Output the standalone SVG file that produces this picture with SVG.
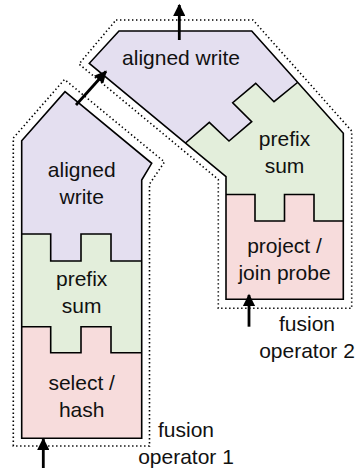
<svg xmlns="http://www.w3.org/2000/svg" width="356" height="468" viewBox="0 0 356 468">
  <defs>
    <marker id="head" viewBox="0 0 10 10" refX="9" refY="5" markerWidth="5" markerHeight="4.4" markerUnits="strokeWidth" orient="auto">
      <path d="M0,0 L10,5 L0,10 Z" fill="#000"/>
    </marker>
    <style>
      .write { fill: #e4dff0; }
      .prefix { fill: #e3eedb; }
      .scan { fill: #f7dcdc; }
      .edge { fill: none; stroke: #000; stroke-width: 1.6; stroke-linejoin: miter; }
      .bound { fill: none; stroke: #000; stroke-width: 1.6; stroke-dasharray: 1.4 2.6; }
      .lbl { font-family: "Liberation Sans", Arial, sans-serif; font-size: 21px; fill: #111; text-anchor: middle; }
      .flow { fill: none; stroke: #000; stroke-width: 2.8; marker-end: url(#head); }
    </style>
  </defs>
  <rect width="356" height="468" fill="#fff"/>

  <!-- fusion operator 1 -->
  <g id="operator1">
    <path class="bound" d="M13.3,446 L13.3,138 L64.5,79.5 L164.5,162 L149.5,184 L149.5,446 Z"/>
    <g id="op1-aligned-write">
      <path class="write" d="M21.7,234 L21.7,140.7 L65,91.7 L151.7,163.3 L141.7,180 L141.7,261 L111,261 L111,234 L81,234 L81,261 L50.7,261 L50.7,234 Z"/>
      <text class="lbl" x="81.7" y="177.3">aligned</text>
      <text class="lbl" x="81.7" y="204">write</text>
    </g>
    <g id="op1-prefix-sum">
      <path class="prefix" d="M21.7,234 L50.7,234 L50.7,261 L81,261 L81,234 L111,234 L111,261 L141.7,261 L141.7,352.7 L111,352.7 L111,326.7 L81,326.7 L81,352.7 L50.7,352.7 L50.7,326.7 L21.7,326.7 Z"/>
      <text class="lbl" x="81.7" y="286">prefix</text>
      <text class="lbl" x="81.7" y="313.3">sum</text>
    </g>
    <g id="op1-select-hash">
      <path class="scan" d="M21.7,326.7 L50.7,326.7 L50.7,352.7 L81,352.7 L81,326.7 L111,326.7 L111,352.7 L141.7,352.7 L141.7,438.3 L21.7,438.3 Z"/>
      <text class="lbl" x="81.7" y="390">select /</text>
      <text class="lbl" x="81.7" y="416.7">hash</text>
    </g>
    <!-- stage seams and outline -->
    <path class="edge" d="M21.7,234 L50.7,234 L50.7,261 L81,261 L81,234 L111,234 L111,261 L141.7,261"/>
    <path class="edge" d="M21.7,326.7 L50.7,326.7 L50.7,352.7 L81,352.7 L81,326.7 L111,326.7 L111,352.7 L141.7,352.7"/>
    <path class="edge" d="M21.7,438.3 L21.7,140.7 L65,91.7 L151.7,163.3 L141.7,180 L141.7,438.3 Z"/>
    <text class="lbl" x="186" y="437.3">fusion</text>
    <text class="lbl" x="186" y="463.5">operator 1</text>
  </g>

  <!-- fusion operator 2 -->
  <g id="operator2">
    <path class="bound" d="M116,20 L253,20 L351.7,131 L351.7,308.3 L218.3,308.3 L218.3,179.5 L79,64 Z"/>
    <g id="op2-aligned-write">
      <path class="write" d="M119,31 L251.7,31 L297.5,82.5 L274,101.7 L255.7,83.3 L232.7,102.7 L251.7,121.7 L229,141 L209.3,122.3 L185.5,143 L89.3,63.3 Z"/>
      <text class="lbl" x="181" y="65">aligned write</text>
    </g>
    <g id="op2-prefix-sum">
      <path class="prefix" d="M297.5,82.5 L343.3,133.3 L343.3,221 L314,221 L314,194.5 L284.5,194.5 L284.5,221 L255,221 L255,194.5 L226,194.5 L226,176.7 L185.5,143 L209.3,122.3 L229,141 L251.7,121.7 L232.7,102.7 L255.7,83.3 L274,101.7 Z"/>
      <text class="lbl" x="284.5" y="146">prefix</text>
      <text class="lbl" x="284.5" y="173.3">sum</text>
    </g>
    <g id="op2-project-join">
      <path class="scan" d="M226,194.5 L255,194.5 L255,221 L284.5,221 L284.5,194.5 L314,194.5 L314,221 L343.3,221 L343.3,299.3 L226,299.3 Z"/>
      <text class="lbl" x="284.5" y="253.3">project /</text>
      <text class="lbl" x="284.5" y="280">join probe</text>
    </g>
    <!-- stage seams and outline -->
    <path class="edge" d="M297.5,82.5 L274,101.7 L255.7,83.3 L232.7,102.7 L251.7,121.7 L229,141 L209.3,122.3 L185.5,143"/>
    <path class="edge" d="M226,194.5 L255,194.5 L255,221 L284.5,221 L284.5,194.5 L314,194.5 L314,221 L343.3,221"/>
    <path class="edge" d="M119,31 L251.7,31 L343.3,133.3 L343.3,299.3 L226,299.3 L226,176.7 L89.3,63.3 Z"/>
    <text class="lbl" x="307" y="330.7">fusion</text>
    <text class="lbl" x="307" y="357.5">operator 2</text>
  </g>

  <!-- data flow -->
  <g id="connectors">
    <path class="flow" d="M43.3,468 L43.3,439"/>
    <path class="flow" d="M249,326.7 L249,295"/>
    <path class="flow" d="M76,105 L106,71.5"/>
    <path class="flow" d="M179.3,40 L179.3,5"/>
  </g>
</svg>
